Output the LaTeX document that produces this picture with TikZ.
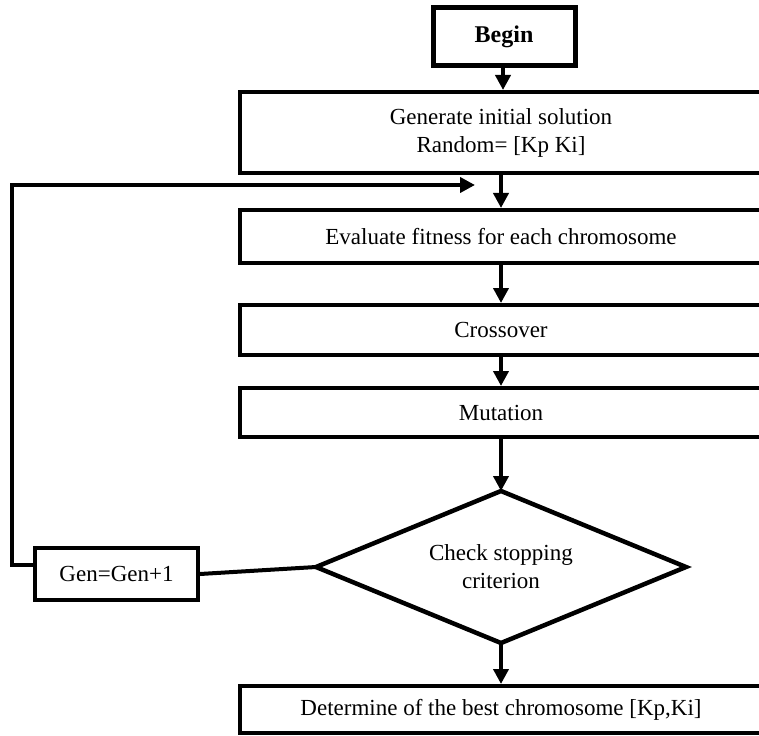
\documentclass[tikz,border=0pt]{standalone}
\usepackage{fontspec}
\setmainfont{Liberation Serif}
\usetikzlibrary{shapes.geometric,arrows.meta}
\begin{document}
\begin{tikzpicture}[x=1pt,y=-1pt,
  every node/.style={font=\fontsize{23}{28}\selectfont},
  box/.style={draw,line width=4pt,rectangle,inner sep=0pt,align=center},
  conn/.style={line width=4pt},
  arr/.style={line width=4pt,-{Triangle[length=15pt,width=15pt]}},
]
\useasboundingbox (0,0) rectangle (759,735);
\clip (0,0) rectangle (759,735);
\node[box,line width=5pt,minimum width=142pt,minimum height=58pt,font=\fontsize{24}{28}\selectfont\bfseries] (begin) at (504,37) {Begin};
\node[box,minimum width=522pt,minimum height=81pt] (init) at (501,132.5) {Generate initial solution\\Random= [Kp Ki]};
\node[box,minimum width=522pt,minimum height=53pt] (eval) at (501,236.5) {Evaluate fitness for each chromosome};
\node[box,minimum width=522pt,minimum height=50pt] (cross) at (501,330) {Crossover};
\node[box,minimum width=522pt,minimum height=49pt] (mut) at (501,412.5) {Mutation};
\node[draw,line width=4.5pt,diamond,shape aspect=2.4,inner sep=0pt,outer sep=0pt,minimum width=370pt,minimum height=152pt,align=center] (dia) at (501,567) {Check stopping\\criterion};
\node[box,minimum width=163pt,minimum height=52pt] (inc) at (116.5,574) {Gen=Gen+1};
\node[box,minimum width=522pt,minimum height=47pt] (best) at (501,709.5) {Determine of the best chromosome [Kp,Ki]};
\coordinate (loopend) at (475,185);
\draw[arr] (begin.south -| 503,0) -- (init.north -| 503,0);
\draw[arr] (init.south) -- (eval.north);
\draw[arr] (eval.south) -- (cross.north);
\draw[arr] (cross.south) -- (mut.north);
\draw[arr] (mut.south) -- (dia.north);
\draw[arr] (dia.south) -- (best.north);
\draw[conn] (inc.east) -- (dia.west);
\draw[arr] (inc.west |- 0,565) -- (12,565) -- (12,185) -- (loopend);
\end{tikzpicture}
\end{document}
